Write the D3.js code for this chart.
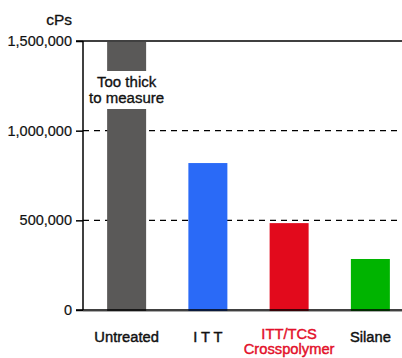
<!DOCTYPE html>
<html><head><meta charset="utf-8">
<script src="https://cdn.jsdelivr.net/npm/d3@7"></script>
<style>body{margin:0;background:#fff}svg{display:block;font-family:"Liberation Sans",Arial,sans-serif}</style>
</head><body><svg id="c" width="402" height="358"></svg>
<script>
const categories = ["Untreated", "I T T", "ITT/TCS|Crosspolymer", "Silane"];
const values = [1500000, 825000, 490000, 290000];
const colors = ["#5a5958", "#2a6af7", "#e20a1c", "#00b400"];
const labelColors = ["#111", "#111", "#e3102a", "#111"];
const yTicks = [0, 500000, 1000000, 1500000];
const dashedTicks = [500000, 1000000];
const unitLabel = "cPs";
const noteLines = ["Too thick", "to measure"];

const svg = d3.select("#c");
const y = d3.scaleLinear().domain([0, 1500000]).range([310, 41]);
const x = d3.scaleBand().domain(categories).range([85, 410]).paddingInner(0.52).paddingOuter(0.26);

// dashed grid
svg.selectAll(".g").data(dashedTicks).join("line")
  .attr("x1", 83).attr("x2", 402).attr("y1", d => y(d)).attr("y2", d => y(d))
  .attr("stroke", "#000").attr("stroke-width", 1.2).attr("stroke-dasharray", "6,5");

// bars
svg.selectAll(".b").data(values).join("rect")
  .attr("x", (d, i) => x(categories[i]) + 1).attr("width", x.bandwidth())
  .attr("y", d => y(d) + 1).attr("height", d => y(0) - y(d) + 1)
  .attr("fill", (d, i) => colors[i]);

// gap with note on first bar
const cx0 = x(categories[0]) + 1 + x.bandwidth() / 2;
svg.append("rect").attr("x", x(categories[0])).attr("width", x.bandwidth() + 2)
  .attr("y", 71).attr("height", 38).attr("fill", "#fff");
svg.selectAll(".note").data(noteLines).join("text")
  .attr("text-anchor", "middle").attr("font-size", 15.5).attr("fill", "#111")
  .attr("stroke", "#111").attr("stroke-width", 0.35)
  .attr("transform", (d, i) => `translate(${cx0},${87 + i * 16}) scale(0.97,1)`)
  .text(d => d);

// top solid line and baseline
svg.append("line").attr("x1", 76).attr("x2", 402).attr("y1", y(1500000)).attr("y2", y(1500000)).attr("stroke", "#000").attr("stroke-width", 1.5);
svg.append("line").attr("x1", 83).attr("x2", 402).attr("y1", y(0) + 1.5).attr("y2", y(0) + 1.5).attr("stroke", "#aaa").attr("stroke-width", 1);

// y axis
const yAxis = d3.axisLeft(y).tickValues(yTicks).tickSize(7).tickPadding(4).tickFormat(d3.format(","));
const ga = svg.append("g").attr("transform", "translate(83,0)").call(yAxis);
ga.select(".domain").attr("stroke", "#000").attr("stroke-width", 1.5).attr("d", `M0,${y(1500000)}V${y(0)}`);
ga.selectAll(".tick line").attr("stroke", "#000").attr("stroke-width", 1.5);
ga.selectAll(".tick text").attr("font-size", 14.5).attr("fill", "#111")
  .attr("stroke", "#111").attr("stroke-width", 0.2)
  .attr("font-family", "'Liberation Sans',Arial,sans-serif");
svg.append("line").attr("x1", 76).attr("x2", 402).attr("y1", y(0)).attr("y2", y(0)).attr("stroke", "#000").attr("stroke-width", 1.5);

svg.append("text").attr("x", 72).attr("y", 25).attr("text-anchor", "end").attr("font-size", 15.5)
  .attr("fill", "#111").attr("stroke", "#111").attr("stroke-width", 0.3).text(unitLabel);

// category labels
categories.forEach((d, i) => {
  const cx = x(d) + 1 + x.bandwidth() / 2;
  const parts = d.split("|");
  const base = parts.length > 1 ? 339 : 342;
  svg.selectAll(null).data(parts).join("text")
    .attr("text-anchor", "middle").attr("font-size", 15.5)
    .attr("fill", labelColors[i]).attr("stroke", labelColors[i]).attr("stroke-width", 0.45)
    .attr("transform", (s, k) => `translate(${cx},${base + k * 15}) scale(0.95,1)`)
    .text(s => s);
});
</script></body></html>
